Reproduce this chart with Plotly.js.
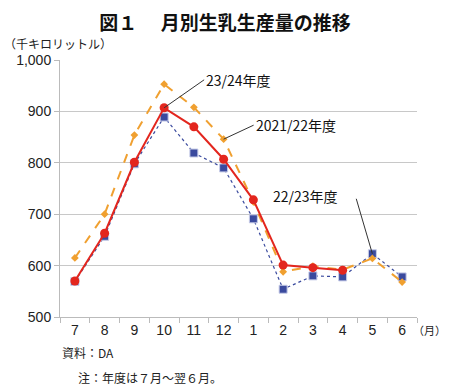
<!DOCTYPE html>
<html><head><meta charset="utf-8">
<script src="https://cdn.plot.ly/plotly-3.0.1.min.js"></script>
<style>body{margin:0;background:#fff}#c{width:450px;height:390px}</style>
</head><body><div id="c"></div>
<script>
const months = ['7','8','9','10','11','12','1','2','3','4','5','6'];
const fy2122 = [615, 700, 854, 953, 908, 846, 724, 588, 599, 592, 614, 568];
const fy2223 = [569, 657, 798, 889, 819, 790, 691, 554, 580, 578, 623, 578];
const fy2324 = [570, 663, 801, 907, 870, 807, 728, 601, 596, 591];
const yTicks = [500, 600, 700, 800, 900, 1000];
const yTickText = ['500','600','700','800','900','1,000'];

const font = 'Liberation Sans, Arial, Noto Sans CJK JP, sans-serif';
const jp = 'Noto Sans CJK JP, sans-serif';

const traces = [
  {x: months, y: fy2223, name: '22/23年度', mode: 'lines+markers',
   line: {color: '#3a4a9e', width: 1.2, dash: 'dot'},
   marker: {symbol: 'square', size: 8, color: '#3a4a9e', line: {color: '#c8cde8', width: 1}}},
  {x: months, y: fy2122, name: '2021/22年度', mode: 'lines+markers',
   line: {color: '#f0a030', width: 2, dash: 'dash'},
   marker: {symbol: 'diamond', size: 6, color: '#f0a030'}},
  {x: months.slice(0, fy2324.length), y: fy2324, name: '23/24年度', mode: 'lines+markers',
   line: {color: '#e3261e', width: 2},
   marker: {symbol: 'circle', size: 9, color: '#e3261e'}}
];

const idx = m => months.indexOf(m);

const layout = {
  width: 450, height: 390,
  margin: {l: 60, r: 33, t: 60, b: 73},
  paper_bgcolor: '#fff', plot_bgcolor: '#fff',
  showlegend: false,
  font: {family: font, size: 14, color: '#222'},
  title: {text: '<b>図１　 月別生乳生産量の推移</b>', x: 0.5, xanchor: 'center', y: 0.957,
          font: {family: jp, size: 19, color: '#111'}},
  xaxis: {type: 'category', categoryorder: 'array', categoryarray: months,
          range: [-0.5, 11.5], showline: true, linecolor: '#bbb', linewidth: 1,
          ticks: 'outside', tickson: 'boundaries', ticklen: 5, tickcolor: '#bbb',
          showgrid: false, tickfont: {family: font, size: 14, color: '#222'}},
  yaxis: {range: [500, 1000], tickvals: yTicks, ticktext: yTickText,
          showline: true, linecolor: '#bbb', linewidth: 1,
          ticks: 'outside', ticklen: 5, tickcolor: '#bbb',
          showgrid: true, gridcolor: '#c8c8c8', gridwidth: 1, zeroline: false,
          tickfont: {family: font, size: 14, color: '#222'}},
  annotations: [
    {xref: 'paper', yref: 'paper', x: -0.162, y: 1.066, xanchor: 'left', yanchor: 'middle',
     text: '（千キロリットル）', showarrow: false, font: {family: jp, size: 12, color: '#222'}},
    {xref: 'paper', yref: 'paper', x: 1.087, y: -0.05, xanchor: 'right', yanchor: 'middle',
     text: '（月）', showarrow: false, font: {family: jp, size: 11, color: '#222'}},
    {xref: 'paper', yref: 'paper', x: 0.0, y: -0.14, xanchor: 'left', yanchor: 'middle',
     text: '資料：DA', showarrow: false, font: {family: jp, size: 12, color: '#222'}},
    {xref: 'paper', yref: 'paper', x: 0.045, y: -0.237, xanchor: 'left', yanchor: 'middle',
     text: '注：年度は７月～翌６月。', showarrow: false, font: {family: jp, size: 12, color: '#222'}},
    {x: idx('10'), y: fy2324[idx('10')], text: '23/24年度', showarrow: true, arrowhead: 0, arrowwidth: 1, arrowcolor: '#333',
     ax: 40, ay: -28, xanchor: 'left', font: {family: jp, size: 14, color: '#111'}},
    {x: idx('12'), y: fy2122[idx('12')], text: '2021/22年度', showarrow: true, arrowhead: 0, arrowwidth: 1, arrowcolor: '#333',
     ax: 30, ay: -14, xanchor: 'left', font: {family: jp, size: 14, color: '#111'}},
    {x: idx('5'), y: fy2223[idx('5')], text: ' ', showarrow: true, arrowhead: 0, arrowwidth: 1, arrowcolor: '#333',
     ax: -17, ay: -58, font: {family: jp, size: 2, color: '#111'}},
    {x: idx('5'), y: fy2223[idx('5')], text: '22/23年度', showarrow: false,
     xshift: -32, yshift: 58, xanchor: 'right', yanchor: 'middle', font: {family: jp, size: 14, color: '#111'}}
  ]
};
Plotly.newPlot('c', traces, layout, {displayModeBar: false, staticPlot: true});
</script></body></html>
